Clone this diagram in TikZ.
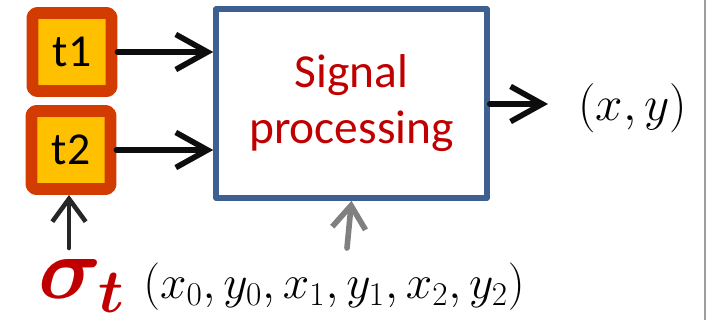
\RequirePackage{fix-cm}
\documentclass[tikz,border=0pt]{standalone}
\usepackage{bm}
\usepackage{fontspec}
\setmainfont{Carlito}
\usetikzlibrary{arrows.meta}
\definecolor{TimerOrange}{HTML}{D23C00}
\definecolor{TimerGold}{HTML}{FFC000}
\definecolor{BoxBlue}{HTML}{3C6090}
\definecolor{LabelRed}{HTML}{C00000}

\begin{document}
\begin{tikzpicture}[x=0.02cm,y=-0.02cm,line cap=round,line join=round,
  timer/.style={draw=TimerOrange,fill=TimerGold,line width=6.8pt,rounded corners=2.5pt,outer sep=auto,
    minimum width=1.58cm,minimum height=1.56cm,inner sep=0pt,font=\fontsize{26}{26}\selectfont},
  flow/.style={line width=3.2pt,-{Straight Barb[length=18pt,width=20pt]}}]
  \useasboundingbox (0,0) rectangle (707,320);
  \node[timer] (t1) at (72,52) {t1};
  \node[timer] (t2) at (71,150) {t2};
  \node[draw=BoxBlue,line width=3.2pt,outer sep=auto,minimum width=5.42cm,minimum height=3.78cm,align=center,
    text=LabelRed,font=\fontsize{27}{32}\selectfont] (proc) at (351.5,103.5) {Signal\\processing};
  \node[anchor=west,inner sep=0pt,font=\fontsize{28}{28}\selectfont] (xy) at (578,108) {$(x,y)$};
  \node[inner sep=0pt,text=LabelRed,font=\fontsize{50}{50}\selectfont] (sig) at (82,286) {$\bm{\sigma}_{\bm{t}}$};
  \node[anchor=west,inner sep=0pt,font=\fontsize{27}{28}\selectfont] (pts) at (143,287) {$(x_0,y_0,x_1,y_1,x_2,y_2)$};
  \coordinate (s) at (69,248); \coordinate (g) at (347,248);
  \draw[flow,black!95] (t1) -- (t1 -| proc.west);
  \draw[flow,black!95] (t2) -- (t2 -| proc.west);
  \draw[flow,black!95] (proc.east |- 0,104) -- (548,104);
  \draw[flow,black!85,line width=2.6pt,-{Straight Barb[length=13pt,width=19pt]}] (s) -- (s |- t2.south);
  \draw[flow,black!50,-{Straight Barb[length=13pt,width=19pt]}] (g) -- (proc.south);
  \draw[black!38,line width=1.5pt] (705,0) -- (705,320);
\end{tikzpicture}
\end{document}
